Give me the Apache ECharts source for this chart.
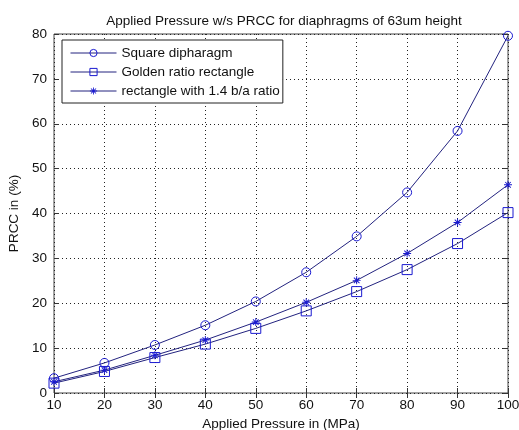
<!DOCTYPE html>
<html>
<head>
<meta charset="utf-8">
<script src="https://cdn.jsdelivr.net/npm/echarts@6/dist/echarts.min.js"></script>
<style>
  html, body { margin: 0; padding: 0; background: #fff; }
  #chart { width: 519px; height: 430px; }
</style>
</head>
<body>
<div id="chart"></div>
<script>
const pressure = [10, 20, 30, 40, 50, 60, 70, 80, 90, 100];
const squareDia = [3.3, 6.7, 10.7, 15.1, 20.4, 26.9, 34.9, 44.7, 58.4, 79.6];
const goldenRect = [2.2, 4.8, 7.9, 10.9, 14.4, 18.3, 22.6, 27.5, 33.3, 40.2];
const rect14 = [2.5, 5.1, 8.4, 11.8, 15.8, 20.2, 25.1, 31.1, 38.0, 46.4];
const seriesNames = ['Square dipharagm', 'Golden ratio rectangle', 'rectangle with 1.4 b/a ratio'];

const lineColor = '#23237f';
const markColor = '#1a1ad0';
const font = 'Liberation Sans, Arial, sans-serif';
const fs = 13.5;
// asterisk built from four thin bars so it can be filled
const star = 'path://M4.4,0L5.6,0L5.6,10L4.4,10Z M0,4.4L10,4.4L10,5.6L0,5.6Z ' +
  'M1.92,1.08L8.92,8.08L8.08,8.92L1.08,1.92Z M8.08,1.08L8.92,1.92L1.92,8.92L1.08,8.08Z';

const chart = echarts.init(document.getElementById('chart'));

const pair = arr => arr.map((v, i) => [pressure[i], v]);

function makeSeries(name, data, symbol, size, itemStyle) {
  return {
    name: name,
    type: 'line',
    data: pair(data),
    symbol: symbol,
    symbolSize: size,
    showAllSymbol: true,
    lineStyle: { color: lineColor, width: 1 },
    itemStyle: itemStyle,
    emphasis: { disabled: true },
    animation: false
  };
}

const hollow = { color: 'rgba(255,255,255,0)', borderColor: markColor, borderWidth: 1 };
const tickStyle = { inside: true, length: 5, lineStyle: { color: '#333' } };

chart.setOption({
  backgroundColor: '#fff',
  textStyle: { fontFamily: font },
  title: {
    text: 'Applied Pressure w/s PRCC for diaphragms of 63um height',
    left: 279, top: 9, textAlign: 'center',
    textStyle: { fontSize: fs, fontWeight: 'normal', color: '#111', fontFamily: font }
  },
  grid: {
    left: 54, right: 11, top: 34, bottom: 37,
    containLabel: false, outerBoundsMode: 'none',
    show: true, borderColor: '#444', borderWidth: 1
  },
  legend: {
    orient: 'vertical',
    left: 62, top: 40,
    data: seriesNames,
    backgroundColor: '#fff',
    borderColor: '#222', borderWidth: 1, borderRadius: 0,
    padding: [6, 3, 5, 8],
    itemWidth: 46, itemHeight: 9, itemGap: 5,
    lineStyle: { width: 1 },
    itemStyle: { borderWidth: 1 },
    textStyle: { fontSize: fs, color: '#111', fontFamily: font }
  },
  xAxis: [{
    type: 'value', min: 10, max: 100, interval: 10,
    name: 'Applied Pressure in (MPa)', nameLocation: 'middle', nameGap: 22,
    nameTextStyle: { fontSize: fs, color: '#111' },
    axisLine: { show: false },
    axisTick: tickStyle,
    axisLabel: { fontSize: fs, color: '#111', margin: 5 },
    splitLine: { show: true, lineStyle: { color: '#222', type: [1, 3], width: 1 } }
  }, {
    type: 'value', min: 10, max: 100, interval: 10, position: 'top',
    axisLine: { show: false }, axisTick: tickStyle,
    axisLabel: { show: false }, splitLine: { show: false }
  }],
  yAxis: [{
    type: 'value', min: 0, max: 80, interval: 10,
    name: 'PRCC in (%)', nameLocation: 'middle', nameGap: 32,
    nameTextStyle: { fontSize: fs, color: '#111' },
    axisLine: { show: false },
    axisTick: tickStyle,
    axisLabel: { fontSize: fs, color: '#111', margin: 7 },
    splitLine: { show: true, lineStyle: { color: '#222', type: [1, 3], width: 1 } }
  }, {
    type: 'value', min: 0, max: 80, interval: 10, position: 'right',
    axisLine: { show: false }, axisTick: tickStyle,
    axisLabel: { show: false }, splitLine: { show: false }
  }],
  series: [
    makeSeries(seriesNames[0], squareDia, 'circle', 9, hollow),
    makeSeries(seriesNames[1], goldenRect, 'rect', 10, hollow),
    makeSeries(seriesNames[2], rect14, star, 8, { color: markColor, borderWidth: 0 })
  ]
});
</script>
</body>
</html>
